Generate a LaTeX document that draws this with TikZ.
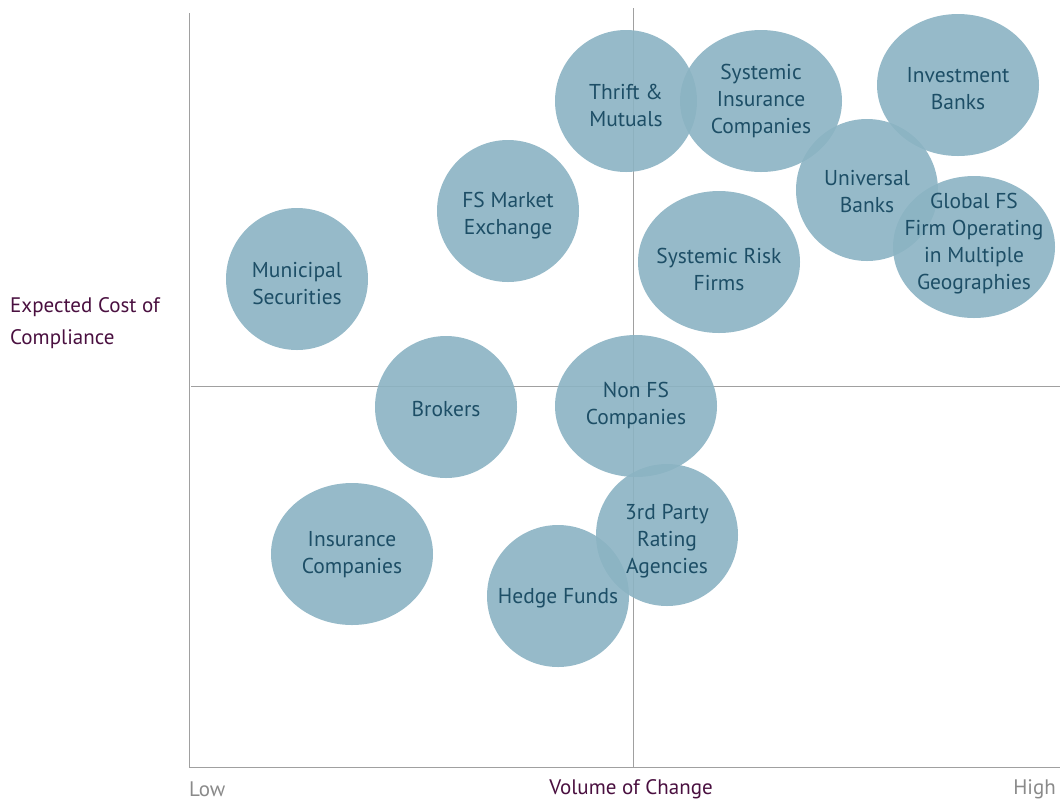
\documentclass[tikz,border=0pt]{standalone}
\usepackage{fontspec}
\setmainfont{PT Sans}
\usetikzlibrary{shapes.geometric}
\definecolor{bub}{HTML}{8BB3C3}
\definecolor{bubtext}{HTML}{1D4E66}
\definecolor{axis}{HTML}{A0A0A0}
\definecolor{plum}{HTML}{4A1040}
\definecolor{lowgrey}{HTML}{8A8A8A}
\begin{document}
\begin{tikzpicture}[x=1pt,y=-1pt,
  bubble/.style={ellipse, fill=bub, fill opacity=0.9, draw=none,
    minimum width=142pt, minimum height=142pt, inner sep=0pt},
  wide/.style={minimum width=162pt},
  btext/.style={text=bubtext, align=center, inner sep=0pt,
    font=\fontsize{21.5}{27}\selectfont},
  axisline/.style={draw=axis, line width=0.8pt},
  lab/.style={font=\fontsize{21}{32}\selectfont, inner sep=0pt}]
\useasboundingbox (0,0) rectangle (1060,804);
% axes
\coordinate (ytop) at (189,13);
\coordinate (origin) at (189,767);
\coordinate (xend) at (1060,767);
\coordinate (mtop) at (633,8);
\coordinate (mbot) at (633,767);
\coordinate (hl) at (191,386);
\coordinate (hr) at (1060,386);
\draw[axisline] (ytop) -- (origin) -- (xend);
\draw[axisline] (mtop) -- (mbot);
\draw[axisline] (hl) -- (hr);
% bubbles
\node[bubble] (thrift) at (626,101) {};
\node[bubble,wide] (sysins) at (761,101) {};
\node[bubble,wide] (invb) at (958,85) {};
\node[bubble] (univ) at (867,190) {};
\node[bubble,wide] (global) at (974,247) {};
\node[bubble] (fsme) at (508,211) {};
\node[bubble,wide] (sysrisk) at (719,262) {};
\node[bubble] (muni) at (297,279) {};
\node[bubble] (brokers) at (446,407) {};
\node[bubble,wide] (nonfs) at (636,406) {};
\node[bubble] (rating) at (667,535) {};
\node[bubble,wide] (insco) at (352,554) {};
\node[bubble] (hedge) at (558,596) {};
% bubble texts
\node[btext] (thriftT) at ([yshift=-4pt]thrift.center) {Thrift \&\\Mutuals};
\node[btext] (sysinsT) at ([yshift=0pt]sysins.center) {Systemic\\Insurance\\Companies};
\node[btext] (invbT) at ([yshift=-3.5pt]invb.center) {Investment\\Banks};
\node[btext] (univT) at ([yshift=-1.5pt]univ.center) {Universal\\Banks};
\node[btext] (globalT) at ([yshift=3pt]global.center) {Global FS\\Firm Operating\\in Multiple\\Geographies};
\node[btext] (fsmeT) at ([yshift=-5pt]fsme.center) {FS Market\\Exchange};
\node[btext] (sysriskT) at ([yshift=-7pt]sysrisk.center) {Systemic Risk\\Firms};
\node[btext] (muniT) at ([yshift=-5pt]muni.center) {Municipal\\Securities};
\node[btext] (brokersT) at ([yshift=-2pt]brokers.center) {Brokers};
\node[btext] (nonfsT) at ([yshift=0.5pt]nonfs.center) {Non FS\\Companies};
\node[btext] (ratingT) at ([yshift=-6pt]rating.center) {3rd Party\\Rating\\Agencies};
\node[btext] (inscoT) at ([yshift=-1pt]insco.center) {Insurance\\Companies};
\node[btext] (hedgeT) at ([yshift=-2pt]hedge.center) {Hedge Funds};
% labels
\node[lab, text=plum, align=left, anchor=west] (ylab) at (10,323) {Expected Cost of\\Compliance};
\node[lab, text=plum] (xlab) at (631,789) {Volume of Change};
\node[lab, text=lowgrey, anchor=west] (low) at (189,789) {Low};
\node[lab, text=lowgrey, anchor=east] (high) at (1056,789) {High};
\end{tikzpicture}
\end{document}
